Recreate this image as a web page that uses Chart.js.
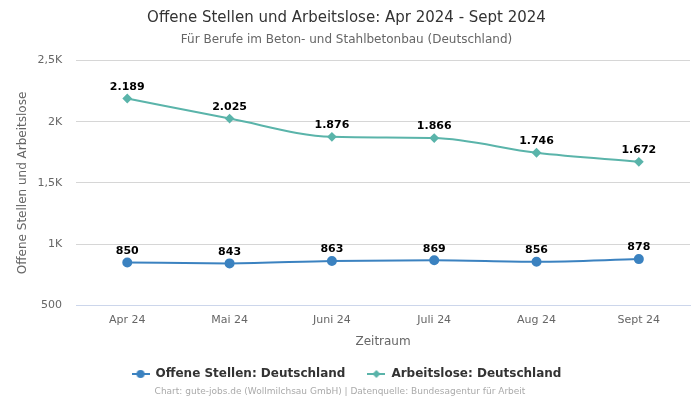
<!DOCTYPE html>
<html lang="de">
<head>
<meta charset="UTF-8">
<title>Offene Stellen und Arbeitslose</title>
<script src="https://cdn.jsdelivr.net/npm/chart.js"></script>
<style>
  html, body { margin: 0; padding: 0; background: #fff; }
  #wrap { width: 700px; height: 400px; }
</style>
</head>
<body>
<div id="wrap"><canvas id="chart"></canvas></div>
<script>
// Daten
const monate = ['Apr 24', 'Mai 24', 'Juni 24', 'Juli 24', 'Aug 24', 'Sept 24'];
const offeneStellen = [850, 843, 863, 869, 856, 878];
const arbeitslose = [2189, 2025, 1876, 1866, 1746, 1672];
const yTicks = [500, 1000, 1500, 2000, 2500];

const blau = '#3b82c0';
const tuerkis = '#5ab4aa';
const fontFam = '"DejaVu Sans", sans-serif';

// kleines Legendensymbol: Linie mit Marker in der Mitte
function legendIcon(color, style) {
  const c = document.createElement('canvas');
  c.width = 18; c.height = 10;
  const g = c.getContext('2d');
  g.strokeStyle = color; g.fillStyle = color; g.lineWidth = 2;
  g.beginPath(); g.moveTo(0, 5); g.lineTo(18, 5); g.stroke();
  g.beginPath();
  if (style === 'circle') {
    g.arc(9, 5, 4, 0, Math.PI * 2);
  } else {
    g.moveTo(9, 1); g.lineTo(13, 5); g.lineTo(9, 9); g.lineTo(5, 5); g.closePath();
  }
  g.fill();
  return c;
}

function fmtDe(v) {
  return v.toLocaleString('de-DE');
}

// Werte über den Punkten
const valueLabels = {
  id: 'valueLabels',
  afterDatasetsDraw(chart) {
    const ctx = chart.ctx;
    ctx.save();
    ctx.font = 'bold 11px ' + fontFam;
    ctx.fillStyle = '#000';
    ctx.textAlign = 'center';
    ctx.textBaseline = 'bottom';
    chart.data.datasets.forEach((ds, i) => {
      chart.getDatasetMeta(i).data.forEach((pt, j) => {
        ctx.fillText(fmtDe(ds.data[j]), pt.x, pt.y - 6);
      });
    });
    ctx.restore();
  }
};

// Quellenangabe unten
const credits = {
  id: 'credits',
  afterDraw(chart) {
    const ctx = chart.ctx;
    ctx.save();
    ctx.font = '9px ' + fontFam;
    ctx.fillStyle = '#aaa';
    ctx.textAlign = 'center';
    ctx.textBaseline = 'middle';
    ctx.fillText('Chart: gute-jobs.de (Wollmilchsau GmbH) | Datenquelle: Bundesagentur für Arbeit', 340, 392);
    ctx.restore();
  }
};

const ctx = document.getElementById('chart').getContext('2d');
new Chart(ctx, {
  type: 'line',
  data: {
    labels: monate,
    datasets: [
      {
        label: 'Offene Stellen: Deutschland',
        data: offeneStellen,
        borderColor: blau,
        backgroundColor: blau,
        borderWidth: 2,
        pointStyle: 'circle',
        pointRadius: 4,
        pointHoverRadius: 4,
        cubicInterpolationMode: 'monotone',
        fill: false
      },
      {
        label: 'Arbeitslose: Deutschland',
        data: arbeitslose,
        borderColor: tuerkis,
        backgroundColor: tuerkis,
        borderWidth: 2,
        pointStyle: 'rectRot',
        pointRadius: 3.5,
        pointHoverRadius: 3.5,
        cubicInterpolationMode: 'monotone',
        fill: false
      }
    ]
  },
  options: {
    responsive: true,
    maintainAspectRatio: false,
    animation: false,
    layout: { padding: { left: 3, right: 10, top: 0, bottom: 10 } },
    plugins: {
      title: {
        display: true,
        text: 'Offene Stellen und Arbeitslose: Apr 2024 - Sept 2024',
        color: '#333',
        font: { family: fontFam, size: 15, weight: 'normal' },
        padding: { top: 9, bottom: 6 }
      },
      subtitle: {
        display: true,
        text: 'Für Berufe im Beton- und Stahlbetonbau (Deutschland)',
        color: '#666',
        font: { family: fontFam, size: 12 },
        padding: { top: 0, bottom: 13 }
      },
      legend: {
        position: 'bottom',
        labels: {
          color: '#333',
          font: { family: fontFam, size: 12, weight: 'bold' },
          usePointStyle: true,
          pointStyleWidth: 18,
          padding: 22,
          generateLabels(chart) {
            return chart.data.datasets.map((ds, i) => ({
              text: ds.label,
              fontColor: '#333',
              pointStyle: legendIcon(ds.borderColor, i === 0 ? 'circle' : 'diamond'),
              datasetIndex: i,
              hidden: false,
              lineWidth: 0
            }));
          }
        }
      },
      tooltip: { enabled: false }
    },
    scales: {
      x: {
        offset: true,
        grid: { display: false, drawTicks: false },
        border: { color: '#ccd6eb' },
        ticks: { color: '#666', font: { family: fontFam, size: 11 }, padding: 8 },
        title: {
          display: true,
          text: 'Zeitraum',
          color: '#666',
          font: { family: fontFam, size: 12 },
          padding: { top: 0, bottom: -3 }
        }
      },
      y: {
        min: 500,
        max: 2500,
        afterBuildTicks(axis) {
          axis.ticks = yTicks.map(v => ({ value: v }));
        },
        grid: { color: '#d6d6d6', drawTicks: false },
        border: { display: false },
        ticks: {
          color: '#666',
          font: { family: fontFam, size: 11 },
          padding: 14,
          callback(v) {
            if (v < 1000) return String(v);
            return (v / 1000).toString().replace('.', ',') + 'K';
          }
        },
        title: {
          display: true,
          text: 'Offene Stellen und Arbeitslose',
          color: '#666',
          font: { family: fontFam, size: 12 },
          padding: { top: 13, bottom: -7 }
        }
      }
    }
  },
  plugins: [valueLabels, credits]
});
</script>
</body>
</html>
